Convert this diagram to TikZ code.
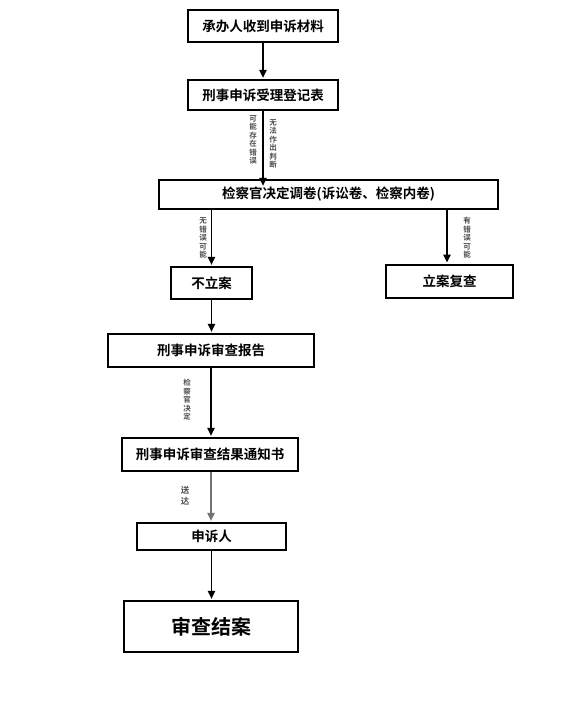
\documentclass[tikz,border=0pt]{standalone}
\usepackage{fontspec}
\newfontfamily\cjk{Noto Sans CJK SC Bold}
\usetikzlibrary{arrows.meta}
\begin{document}
\begin{tikzpicture}[x=1pt,y=-1pt,
  box/.style={draw,line width=1.4pt,inner sep=0pt,font=\cjk\fontsize{13.5}{14}\selectfont},
  arr/.style={line width=1.1pt,shorten >=1.5pt,-{Triangle[width=7.5pt,length=8pt]}},
  lbl/.style={font=\cjk\fontsize{7.5}{8.5}\selectfont,text=black!70,align=center,inner sep=0pt}]
\useasboundingbox (0,0) rectangle (581,704);
\node[box,minimum width=150pt,minimum height=32pt] (b1) at (263,26) {承办人收到申诉材料};
\node[box,minimum width=150pt,minimum height=30pt] (b2) at (263,95) {刑事申诉受理登记表};
\node[box,minimum width=339pt,minimum height=29pt] (b3) at (328.5,194.5) {检察官决定调卷(诉讼卷、检察内卷)};
\node[box,minimum width=81pt,minimum height=32pt] (b4) at (211.5,283) {不立案};
\node[box,minimum width=127pt,minimum height=33pt] (b5) at (449.5,281.5) {立案复查};
\node[box,minimum width=206pt,minimum height=33pt] (b6) at (211,350.5) {刑事申诉审查报告};
\node[box,minimum width=176pt,minimum height=33pt] (b7) at (210,454.5) {刑事申诉审查结果通知书};
\node[box,minimum width=149pt,minimum height=27pt] (b8) at (211.5,536.5) {申诉人};
\node[box,minimum width=174pt,minimum height=51pt,font=\cjk\fontsize{20}{22}\selectfont] (b9) at (211,626.5) {审查结案};

\draw[arr] (b1.south) -- (b2.north);
\draw[arr] (b2.south) -- ([yshift=-8pt]b3.north -| b2.south);
\draw[arr] (b3.south -| b4.north) -- (b4.north);
\draw[arr] (b3.south -| 447,0) -- (447,264);
\draw[arr] (b4.south) -- (b6.north -| b4.south);
\draw[arr] (b6.south) -- (b7.north -| b6.south);
\draw[arr,draw=black!55] (b7.south -| b6.south) -- (b8.north -| b6.south);
\draw[arr] (b8.south) -- (b9.north -| b8.south);

\node[lbl] (l1) at (253,140) {可\\能\\存\\在\\错\\误};
\node[lbl] (l2) at (273,144) {无\\法\\作\\出\\判\\断};
\node[lbl] (l3) at (203,238) {无\\错\\误\\可\\能};
\node[lbl] (l4) at (467,238) {有\\错\\误\\可\\能};
\node[lbl] (l5) at (187,400) {检\\察\\官\\决\\定};
\node[lbl,font=\cjk\fontsize{8.5}{11}\selectfont] (l6) at (185,496) {送\\达};
\end{tikzpicture}
\end{document}
